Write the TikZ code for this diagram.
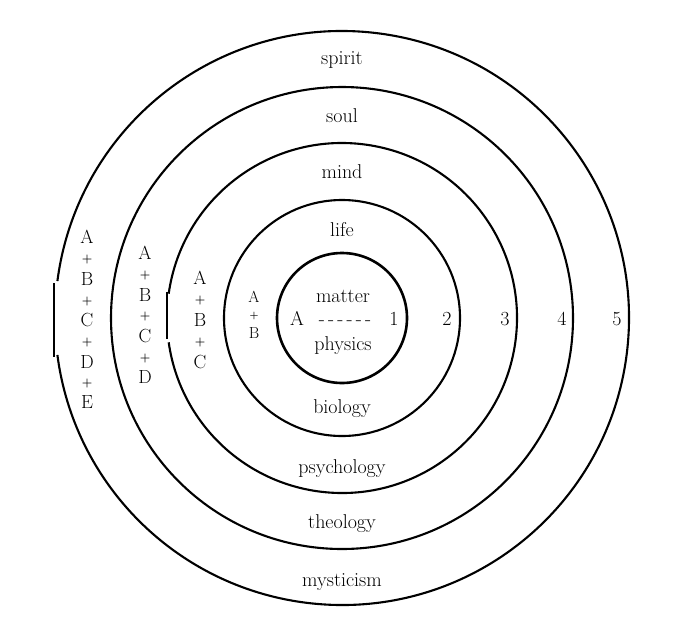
\documentclass[tikz,border=0pt]{standalone}
\begin{document}
\begin{tikzpicture}[x=1pt,y=-1pt,
  ring/.style={line width=2.1pt},
  corering/.style={line width=2.6pt},
  flatbar/.style={line width=2.4pt},
  lab/.style={font=\fontsize{20}{23}\selectfont, inner sep=0pt, anchor=base},
  letr/.style={font=\fontsize{19}{21}\selectfont, inner sep=0pt},
  smallletr/.style={font=\fontsize{16}{18}\selectfont, inner sep=0pt},
  plus/.style={font=\fontsize{12}{13}\selectfont\bfseries, inner sep=0pt},
  smallplus/.style={font=\fontsize{10}{11}\selectfont\bfseries, inner sep=0pt}]
\newcommand\hyph{\hbox{-}\hspace{3.2pt}}
\useasboundingbox (0,0) rectangle (692,632);
\fill[white] (0,0) rectangle (692,632);
\coordinate (C) at (342,318);
% rings
\draw[corering] (C) circle[radius=65];
\draw[ring] (C) circle[radius=118];
\draw[ring] ([shift={(-172:175)}]C) arc[start angle=-172, end angle=172, radius=175];
\draw[flatbar] (167,292) -- (167,339);
\draw[ring] (C) circle[radius=231];
\draw[ring] ([shift={(-172.6:287)}]C) arc[start angle=-172.6, end angle=172.6, radius=287];
\draw[flatbar] (54,283) -- (54,357);
% top labels
\node[lab] (spirit) at (342,64) {spirit};
\node[lab] (soul) at (342,122) {soul};
\node[lab] (mind) at (342,178) {mind};
\node[lab] (life) at (342,236) {life};
% bottom labels
\node[lab] (biology) at (342,413) {biology};
\node[lab] (psychology) at (342,473) {psychology};
\node[lab] (theology) at (342,528) {theology};
\node[lab] (mysticism) at (342,586) {mysticism};
% core
\node[lab] (matter) at (343,302) {matter};
\node[lab] (physics) at (343,350) {physics};
\node[lab] (coreA) at (297,325) {A};
\node[lab] (dashes) at (345,325) {\hyph\hyph\hyph\hyph\hyph\hbox{-}};
\node[lab] (n1) at (394,325) {1};
\node[lab] (n2) at (447,325) {2};
\node[lab] (n3) at (505,325) {3};
\node[lab] (n4) at (562,325) {4};
\node[lab] (n5) at (617,325) {5};
% column A+B
\node[smallletr] (bA) at (254,297) {A};
\node[smallplus] (bp1) at (254,316) {+};
\node[smallletr] (bB) at (254,333) {B};
% column A+B+C
\node[letr] (cA) at (200,278) {A};
\node[plus] (cp1) at (200,300) {+};
\node[letr] (cB) at (200,320) {B};
\node[plus] (cp2) at (200,342) {+};
\node[letr] (cC) at (200,362) {C};
% column A+B+C+D
\node[letr] (dA) at (145,253) {A};
\node[plus] (dp1) at (145,275) {+};
\node[letr] (dB) at (145,295) {B};
\node[plus] (dp2) at (145,316) {+};
\node[letr] (dC) at (145,336) {C};
\node[plus] (dp3) at (145,358) {+};
\node[letr] (dD) at (145,377) {D};
% column A+B+C+D+E
\node[letr] (eA) at (87,237) {A};
\node[plus] (ep1) at (87,259) {+};
\node[letr] (eB) at (87,279) {B};
\node[plus] (ep2) at (87,301) {+};
\node[letr] (eC) at (87,320) {C};
\node[plus] (ep3) at (87,342) {+};
\node[letr] (eD) at (87,362) {D};
\node[plus] (ep4) at (87,383) {+};
\node[letr] (eE) at (87,402) {E};
\end{tikzpicture}
\end{document}
